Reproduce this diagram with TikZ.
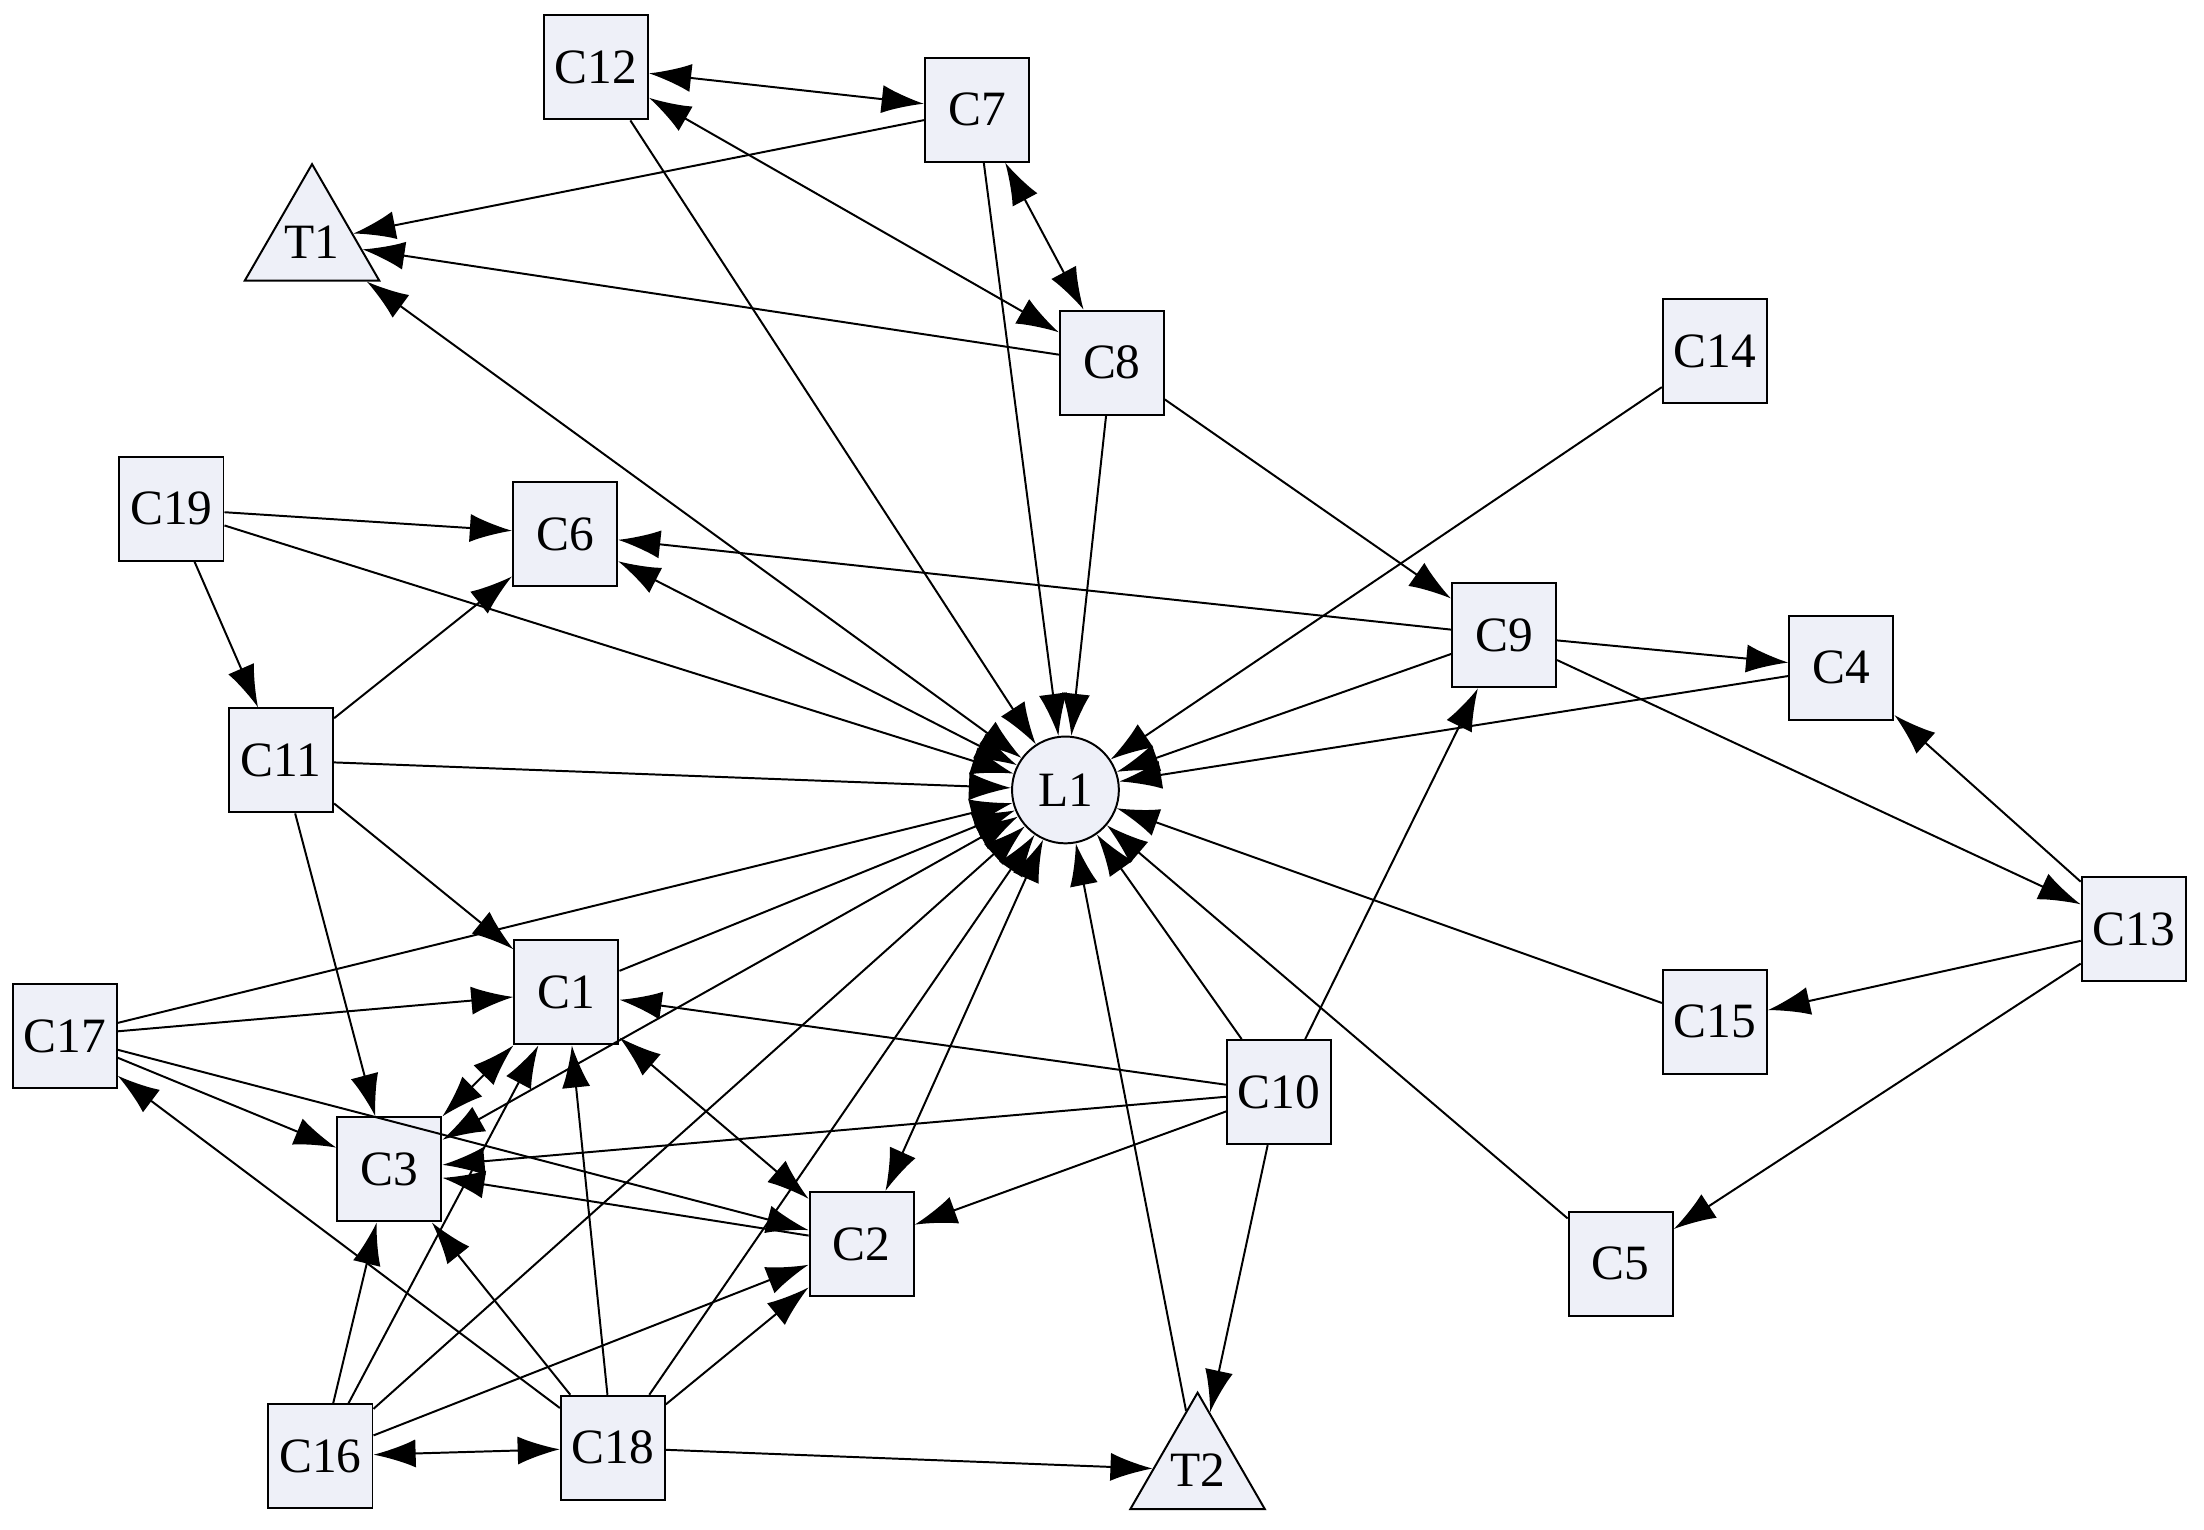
\documentclass[tikz,border=0pt]{standalone}
\usepackage{fontspec}
\setmainfont{Liberation Serif}
\usetikzlibrary{arrows.meta,shapes.geometric}
\begin{document}
\begin{tikzpicture}[x=0.1mm,y=-0.1mm,
  box/.style={draw,fill={rgb,255:red,238;green,240;blue,248},minimum size=7.4mm,inner sep=0pt,font=\fontsize{10}{12}\selectfont},
  tri/.style={draw,fill={rgb,255:red,238;green,240;blue,248},regular polygon,regular polygon sides=3,minimum size=10.6mm,inner sep=0pt,font=\fontsize{10}{12}\selectfont},
  circ/.style={draw,fill={rgb,255:red,238;green,240;blue,248},circle,minimum size=7.6mm,inner sep=0pt,font=\fontsize{10}{12}\selectfont},
  a/.style={-{Latex[length=3mm,width=2mm]},thin},
  b/.style={{Latex[length=3mm,width=2mm]}-{Latex[length=3mm,width=2mm]},thin}]
\useasboundingbox (0,0) rectangle (1568,1088);
\node[box] (C12) at (424,48) {C12};
\node[box] (C7) at (695,78) {C7};
\node[tri] (T1) at (222,172) {T1};
\node[box] (C8) at (791,258) {C8};
\node[box] (C14) at (1220,250) {C14};
\node[box] (C19) at (122,362) {C19};
\node[box] (C6) at (402,380) {C6};
\node[box] (C9) at (1070,452) {C9};
\node[box] (C4) at (1310,475) {C4};
\node[box] (C11) at (200,541) {C11};
\node[circ] (L1) at (758,562) {L1};
\node[box] (C13) at (1518,661) {C13};
\node[box] (C17) at (46,737) {C17};
\node[box] (C1) at (403,706) {C1};
\node[box] (C15) at (1220,727) {C15};
\node[box] (C10) at (910,777) {C10};
\node[box] (C3) at (277,832) {C3};
\node[box] (C2) at (613,885) {C2};
\node[box] (C5) at (1153,899) {C5};
\node[box] (C16) at (228,1036) {C16};
\node[box] (C18) at (436,1030) {C18};
\node[tri] (T2) at (852,1046) {T2};
\draw[b] (C12) -- (C7);
\draw[b] (C12) -- (C8);
\draw[a] (C12) -- (L1);
\draw[a] (C7) -- (T1);
\draw[b] (C7) -- (C8);
\draw[a] (C7) -- (L1);
\draw[a] (C8) -- (T1);
\draw[a] (C8) -- (L1);
\draw[a] (C8) -- (C9);
\draw[b] (L1) -- (T1);
\draw[a] (C14) -- (L1);
\draw[a] (C19) -- (C6);
\draw[a] (C19) -- (C11);
\draw[a] (C19) -- (L1);
\draw[b] (L1) -- (C6);
\draw[a] (C9) -- (C6);
\draw[a] (C9) -- (C4);
\draw[a] (C9) -- (L1);
\draw[a] (C9) -- (C13);
\draw[a] (C4) -- (L1);
\draw[a] (C13) -- (C4);
\draw[a] (C13) -- (C15);
\draw[a] (C13) -- (C5);
\draw[a] (C11) -- (C6);
\draw[a] (C11) -- (L1);
\draw[a] (C11) -- (C1);
\draw[a] (C11) -- (C3);
\draw[a] (C17) -- (L1);
\draw[a] (C17) -- (C1);
\draw[a] (C17) -- (C2);
\draw[a] (C17) -- (C3);
\draw[a] (C18) -- (C17);
\draw[a] (C15) -- (L1);
\draw[a] (C10) -- (L1);
\draw[a] (C10) -- (C9);
\draw[a] (C10) -- (C1);
\draw[a] (C10) -- (C3);
\draw[a] (C10) -- (C2);
\draw[a] (C10) -- (T2);
\draw[a] (C5) -- (L1);
\draw[a] (C1) -- (L1);
\draw[b] (C1) -- (C3);
\draw[b] (L1) -- (C3);
\draw[b] (C1) -- (C2);
\draw[b] (L1) -- (C2);
\draw[a] (C2) -- (C3);
\draw[a] (C16) -- (C3);
\draw[a] (C16) -- (C1);
\draw[a] (C16) -- (L1);
\draw[a] (C16) -- (C2);
\draw[b] (C16) -- (C18);
\draw[a] (C18) -- (C3);
\draw[a] (C18) -- (C1);
\draw[a] (C18) -- (C2);
\draw[a] (C18) -- (L1);
\draw[a] (C18) -- (T2);
\draw[a] (T2) -- (L1);
\end{tikzpicture}
\end{document}
